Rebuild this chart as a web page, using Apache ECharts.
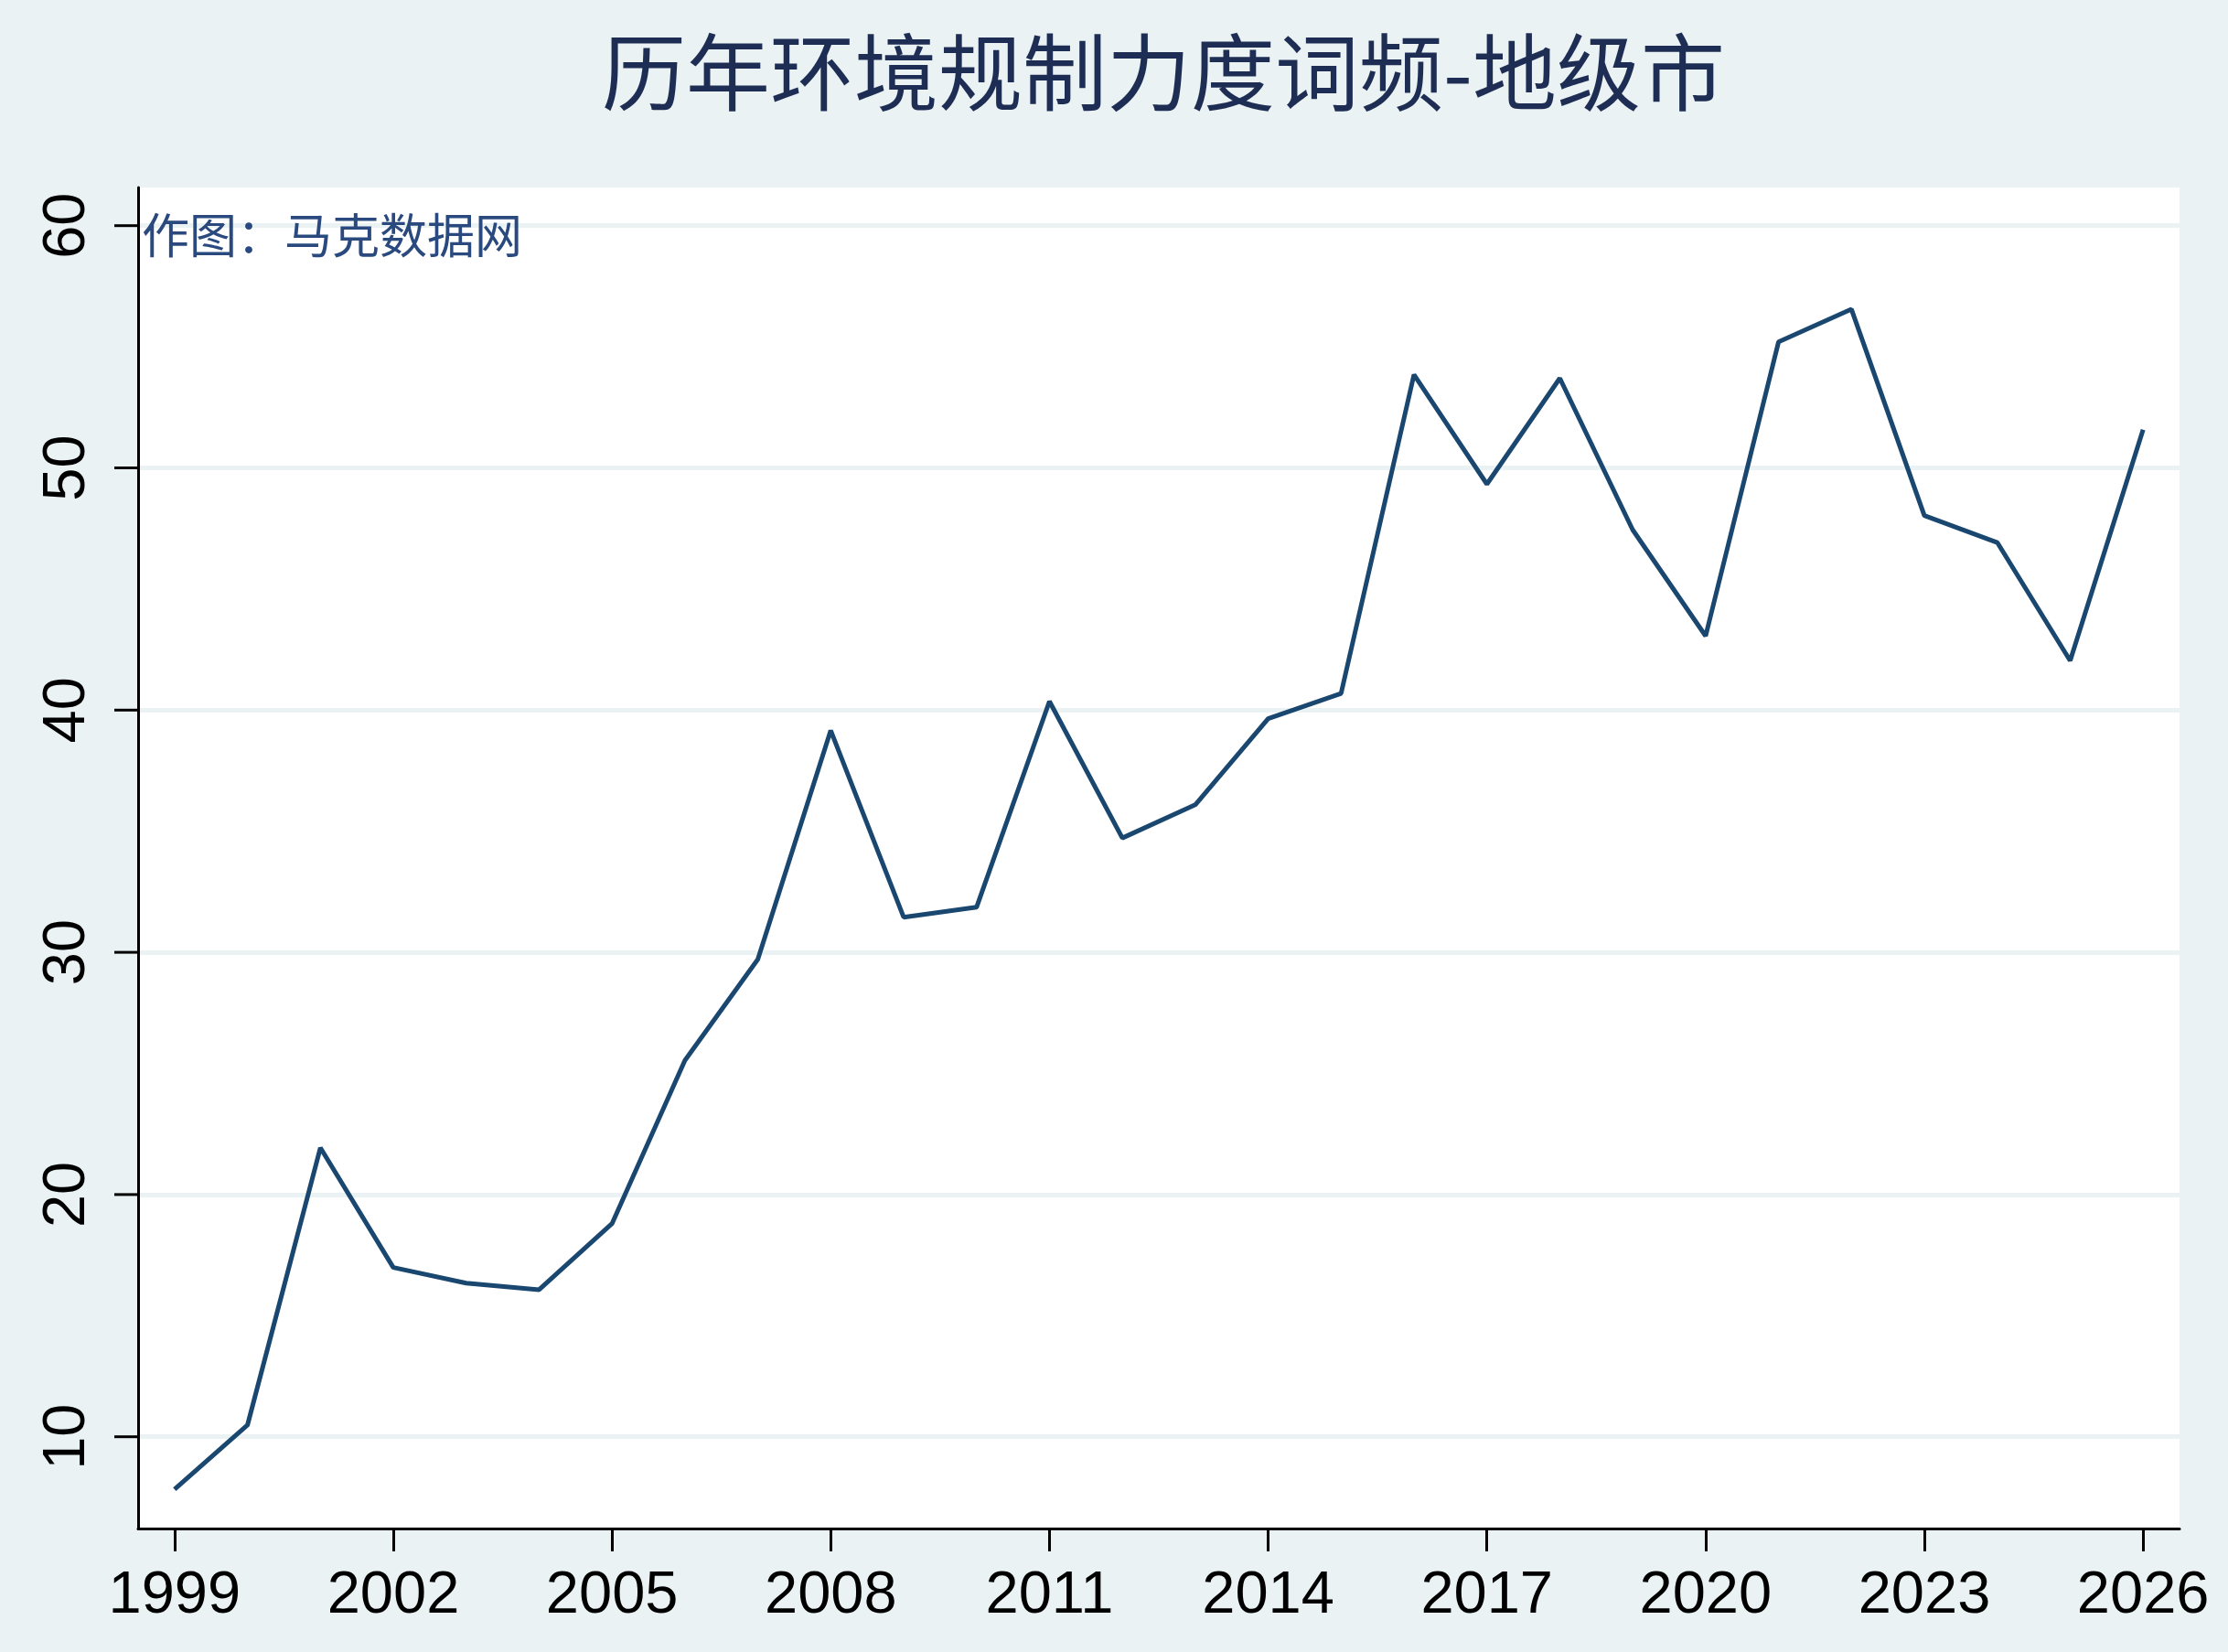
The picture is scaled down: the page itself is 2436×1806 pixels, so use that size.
<!DOCTYPE html>
<html>
<head>
<meta charset="utf-8">
<script src="https://cdn.jsdelivr.net/npm/echarts@6/dist/echarts.min.js"></script>
<style>
  html, body { margin: 0; padding: 0; background: #eaf2f3; }
  #chart { width: 2436px; height: 1806px; }
</style>
</head>
<body>
<div id="chart"></div>
<script>
// 年份（横轴类目）
const years = ['1999','2000','2001','2002','2003','2004','2005','2006','2007','2008',
  '2009','2010','2011','2012','2013','2014','2015','2016','2017','2018',
  '2019','2020','2021','2022','2023','2024','2025','2026'];
// 环境规制力度词频
const freq = [7.83, 10.48, 21.93, 16.99, 16.34, 16.07, 18.8, 25.54, 29.71, 39.16,
  31.45, 31.86, 40.36, 34.72, 36.09, 39.65, 40.69, 53.85, 49.33, 53.7,
  47.44, 43.06, 55.2, 56.55, 48.03, 46.92, 42.04, 51.58];
// 纵轴刻度
const yTicks = [10, 20, 30, 40, 50, 60];

const gridLeft = 151;
const chart = echarts.init(document.getElementById('chart'));

// 绘图区：纵轴可见范围约 6.22 ~ 61.57
// 第二个 grid 把 0~70 的刻度轴撑开，10..60 落在正确位置，0 和 70 落在画布外
const option = {
  backgroundColor: '#eaf2f3',
  animation: false,
  title: [{
    text: '历年环境规制力度词频-地级市',
    left: 1267,
    textAlign: 'center',
    top: 28,
    textStyle: {
      fontFamily: 'Noto Sans CJK SC',
      fontSize: 92,
      fontWeight: 'normal',
      color: '#1e2d53'
    }
  }, {
    text: '作图：马克数据网',
    left: 150,
    top: 226,
    textStyle: {
      fontFamily: 'Noto Sans CJK SC',
      fontSize: 52,
      fontWeight: 'normal',
      color: '#2a4a7f'
    }
  }],
  grid: [{
    left: gridLeft,
    right: 53,
    top: 205,
    bottom: 135,
    show: true,
    backgroundColor: '#ffffff',
    borderWidth: 0,
    outerBoundsMode: 'none'
  }, {
    left: gridLeft,
    right: 53,
    top: -18.1,
    bottom: -29.5,
    show: false,
    outerBoundsMode: 'none'
  }],
  xAxis: [{
    type: 'category',
    gridIndex: 0,
    data: years,
    boundaryGap: true,
    axisLine: { lineStyle: { color: '#000', width: 3 } },
    axisTick: { show: true, interval: 2, alignWithLabel: true, length: 25, lineStyle: { color: '#000', width: 3 } },
    axisLabel: {
      interval: 2,
      margin: 42,
      fontFamily: 'Liberation Sans',
      fontSize: 65,
      color: '#000'
    },
    splitLine: { show: false }
  }, {
    type: 'category',
    gridIndex: 1,
    data: years,
    boundaryGap: true,
    show: false
  }],
  yAxis: [{
    type: 'value',
    gridIndex: 0,
    min: 6.22,
    max: 61.57,
    axisLine: { show: true, lineStyle: { color: '#000', width: 3 } },
    axisTick: { show: false },
    axisLabel: { show: false },
    splitLine: { show: false }
  }, {
    type: 'value',
    gridIndex: 1,
    min: 0,
    max: 70,
    interval: 10,
    axisLine: { show: false },
    axisTick: { show: false },
    axisLabel: {
      showMinLabel: false,
      showMaxLabel: false,
      rotate: 90,
      margin: 44,
      fontFamily: 'Liberation Sans',
      fontSize: 65,
      color: '#000'
    },
    splitLine: { show: true, lineStyle: { color: '#eaf2f3', width: 5 } }
  }],
  series: [{
    type: 'line',
    xAxisIndex: 1,
    yAxisIndex: 1,
    data: freq,
    symbol: 'none',
    lineStyle: { color: '#1a476f', width: 5 },
    z: 3
  }]
};

chart.setOption(option);

// 纵轴刻度线：位置由坐标轴换算得到
const tickMarks = yTicks.map(function (v) {
  const y = chart.convertToPixel({ yAxisIndex: 1 }, v);
  return {
    type: 'line',
    shape: { x1: gridLeft - 26, y1: y, x2: gridLeft, y2: y },
    style: { stroke: '#000', lineWidth: 3 },
    z: 10
  };
});
chart.setOption({ graphic: { elements: tickMarks } });
</script>
</body>
</html>
